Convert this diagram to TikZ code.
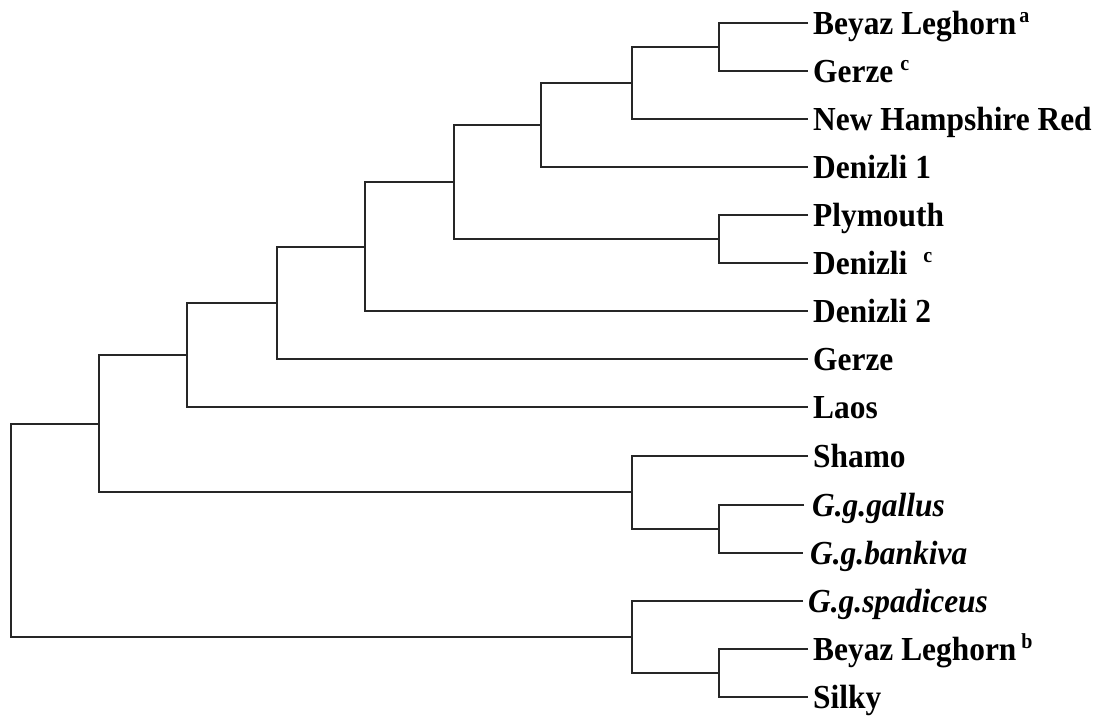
\documentclass[tikz,border=0pt]{standalone}
\usepackage{fontspec}
\setmainfont{Liberation Serif}
% raised footnote letter after a label: #1 gap, #2 letter
\newcommand\supmark[2]{\hspace{#1}\raisebox{11pt}{\fontsize{20}{20}\selectfont #2}}
% slightly taller lettering for the leaf labels
\newcommand\tall[1]{\scalebox{1}[1.07]{#1}}
\begin{document}
\begin{tikzpicture}[x=1pt,y=-1pt,
  branch/.style={draw=black!85, line width=2pt, line join=miter},
  leaf/.style={anchor=base west, inner sep=0pt, font=\bfseries\fontsize{31.4}{31.4}\selectfont},
  species/.style={leaf, font=\bfseries\itshape\fontsize{31.4}{31.4}\selectfont}]
\fill[white] (0,0) rectangle (1107,715);
\useasboundingbox (0,0) rectangle (1107,715);

% leaf tips
\coordinate (t1)  at (808,23);
\coordinate (t2)  at (808,71);
\coordinate (t3)  at (808,119);
\coordinate (t4)  at (808,167);
\coordinate (t5)  at (808,215);
\coordinate (t6)  at (808,263);
\coordinate (t7)  at (808,311);
\coordinate (t8)  at (808,359);
\coordinate (t9)  at (808,407);
\coordinate (t10) at (808,456);
\coordinate (t11) at (804,505);
\coordinate (t12) at (803,553);
\coordinate (t13) at (803,601);
\coordinate (t14) at (808,649);
\coordinate (t15) at (808,697);

% labels
\node[leaf]    (l1)  at (813,34)    {\tall{Beyaz Leghorn\supmark{3pt}{a}}};
\node[leaf]    (l2)  at (813,82)    {\tall{Gerze\supmark{7pt}{c}}};
\node[leaf]    (l3)  at (813,130.6) {\tall{New Hampshire Red}};
\node[leaf]    (l4)  at (813,178)   {\tall{Denizli 1}};
\node[leaf]    (l5)  at (813,226.3) {\tall{Plymouth}};
\node[leaf]    (l6)  at (813,274)   {\tall{Denizli\supmark{16pt}{c}}};
\node[leaf]    (l7)  at (813,322.3) {\tall{Denizli 2}};
\node[leaf]    (l8)  at (813,370.3) {\tall{Gerze}};
\node[leaf]    (l9)  at (813,418.6) {\tall{Laos}};
\node[leaf]    (l10) at (813,467.3) {\tall{Shamo}};
\node[species] (l11) at (812,516.3) {\tall{G.g.gallus}};
\node[species] (l12) at (810,564)   {\tall{G.g.bankiva}};
\node[species] (l13) at (808,612)   {\tall{G.g.spadiceus}};
\node[leaf]    (l14) at (813,660)   {\tall{Beyaz Leghorn\supmark{5pt}{b}}};
\node[leaf]    (l15) at (813,708)   {\tall{Silky}};

% internal nodes
\coordinate (K) at (719,47);
\coordinate (L) at (632,83);
\coordinate (A) at (541,125);
\coordinate (P) at (719,239);
\coordinate (B) at (454,182);
\coordinate (C) at (365,247);
\coordinate (D) at (277,303);
\coordinate (E) at (187,355);
\coordinate (H) at (719,529);
\coordinate (G) at (632,492);
\coordinate (F) at (99,424);
\coordinate (J) at (719,673);
\coordinate (I) at (632,637);
\coordinate (R) at (11,530);

% branches
\draw[branch] (t1) -| (K) |- (t2);
\draw[branch] (K) -| (L) |- (t3);
\draw[branch] (L) -| (A) |- (t4);
\draw[branch] (t5) -| (P) |- (t6);
\draw[branch] (A) -| (B) |- (P);
\draw[branch] (B) -| (C) |- (t7);
\draw[branch] (C) -| (D) |- (t8);
\draw[branch] (D) -| (E) |- (t9);
\draw[branch] (t11) -| (H) |- (t12);
\draw[branch] (t10) -| (G) |- (H);
\draw[branch] (E) -| (F) |- (G);
\draw[branch] (t14) -| (J) |- (t15);
\draw[branch] (t13) -| (I) |- (J);
\draw[branch] (F) -| (R) |- (I);
\end{tikzpicture}
\end{document}
